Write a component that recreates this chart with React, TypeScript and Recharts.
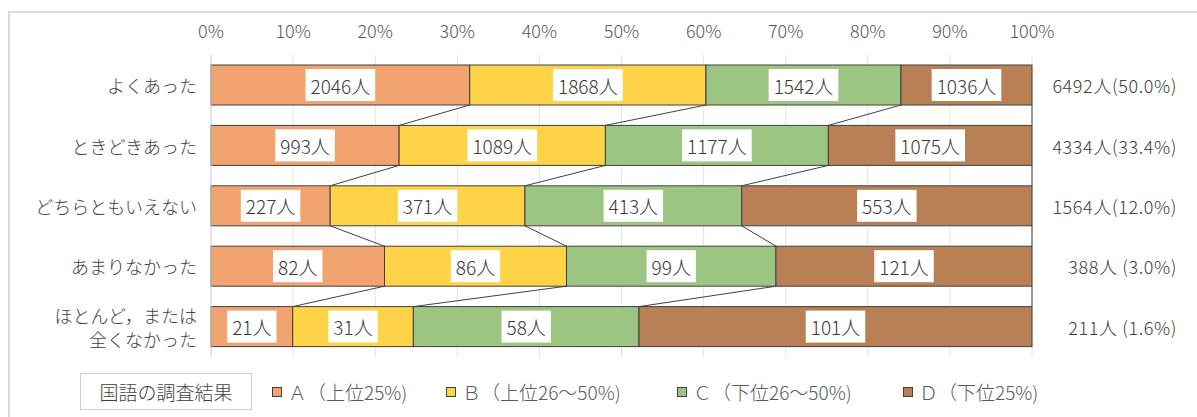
import { useLayoutEffect, useRef, useState } from "react"
import {
    BarChart,
    Bar,
    XAxis,
    YAxis,
    CartesianGrid,
    Legend,
    LabelList
} from "recharts"

// 質問の回答区分
const categories = ["よくあった", "ときどきあった", "どちらともいえない", "あまりなかった", "ほとんど，または\n全くなかった"]
// 国語の調査結果ごとの人数
const seriesA = [2046, 993, 227, 82, 21]
const seriesB = [1868, 1089, 371, 86, 31]
const seriesC = [1542, 1177, 413, 99, 58]
const seriesD = [1036, 1075, 553, 121, 101]
const totalLabels = ["6492人(50.0%)", "4334人(33.4%)", "1564人(12.0%)", "388人 (3.0%)", "211人 (1.6%)"]
const xTicks = [0, 0.1, 0.2, 0.3, 0.4, 0.5, 0.6, 0.7, 0.8, 0.9, 1]
const xTickLabels = ["0%", "10%", "20%", "30%", "40%", "50%", "60%", "70%", "80%", "90%", "100%"]
const legendTitle = "国語の調査結果"
const seriesNames = ["Ａ（上位25%)", "Ｂ（上位26～50%)", "Ｃ（下位26～50%)", "Ｄ（下位25%)"]

const allSeries = [seriesA, seriesB, seriesC, seriesD]
const keys = ["a", "b", "c", "d"]
const colors = ["#f1a46f", "#ffd348", "#9dc582", "#b97f55"]

const data = categories.map((name, i) => ({
    name,
    a: seriesA[i],
    b: seriesB[i],
    c: seriesC[i],
    d: seriesD[i]
}))

const W = 1197
const H = 417
const PLOT_TOP = 55
const LEGEND_H = 60
const PITCH = (H - PLOT_TOP - LEGEND_H) / categories.length
const FONT = "'Noto Sans CJK JP', sans-serif"

const rowTotal = (i: number) => allSeries.reduce((s, arr) => s + arr[i], 0)
const cumTo = (i: number, k: number) => {
    let s = 0
    for (let j = 0; j <= k; j++) s += allSeries[j][i]
    return s
}

// 棒 + 区分線（次の行の同じ境界へ結ぶ）
const makeShape = (k: number) => (props: any) => {
    const { x, y, width, height, index, fill } = props
    const i = index
    const frac = allSeries[k][i] / rowTotal(i)
    const plotW = width / frac
    const left = x - ((cumTo(i, k) - allSeries[k][i]) / rowTotal(i)) * plotW
    let line = null
    if (i < categories.length - 1) {
        const nx = left + (cumTo(i + 1, k) / rowTotal(i + 1)) * plotW
        line = <line x1={x + width} y1={y + height} x2={nx} y2={y + PITCH} stroke="#404040" strokeWidth={1} />
    }
    return (
        <g>
            <rect x={x} y={y} width={width} height={height} fill={fill} stroke="#404040" strokeWidth={1} />
            {line}
        </g>
    )
}

function BoxLabel({ cx, cy, text }: { cx: number, cy: number, text: string }) {
    const ref = useRef<SVGTextElement>(null)
    const [w, setW] = useState(0)
    useLayoutEffect(() => {
        if (ref.current) setW(ref.current.getBBox().width)
    }, [text])
    return (
        <g>
            <rect x={cx - w / 2 - 5} y={cy - 16} width={w + 10} height={32} fill="#ffffff" />
            <text ref={ref} x={cx} y={cy} textAnchor="middle" dominantBaseline="central"
                fontFamily={FONT} fontSize={19} fontWeight={300} fill="#3a3a3a">{text}</text>
        </g>
    )
}

const makeLabel = (k: number) => (props: any) => {
    const { x, y, width, height, index } = props
    return <BoxLabel cx={x + width / 2} cy={y + height / 2} text={`${allSeries[k][index]}人`} />
}

const TopTick = (props: any) => {
    const { x, y, index } = props
    return (
        <text x={x} y={y - 17} textAnchor="middle" fontFamily={FONT} fontSize={18} fontWeight={300} fill="#595959">
            {xTickLabels[index]}
        </text>
    )
}

const LeftTick = (props: any) => {
    const { x, y, payload } = props
    const lines = String(payload.value).split("\n")
    const start = y - ((lines.length - 1) * 24) / 2
    return (
        <text x={x} y={start} textAnchor="end" dominantBaseline="central" fontFamily={FONT} fontSize={18} fontWeight={300} fill="#404040">
            {lines.map((l, j) => (
                <tspan key={j} x={x} y={start + j * 24}>{l}</tspan>
            ))}
        </text>
    )
}

const RightTick = (props: any) => {
    const { x, y, index } = props
    return (
        <text x={x + 145} y={y} textAnchor="end" dominantBaseline="central" fontFamily={FONT} fontSize={18} fontWeight={300}
            letterSpacing={0.6} fill="#404040">
            {totalLabels[index]}
        </text>
    )
}

const legendLeft = [272, 446, 677, 903]

const renderLegend = () => (
    <div style={{ position: "relative", height: LEGEND_H, fontFamily: FONT, fontWeight: 300, color: "#595959" }}>
        <div style={{
            position: "absolute", left: 80, top: 16, width: 172, height: 37,
            border: "1px solid #d0d0d0", boxSizing: "border-box",
            display: "flex", alignItems: "center", justifyContent: "center",
            fontSize: 19, color: "#404040"
        }}>{legendTitle}</div>
        {seriesNames.map((n, k) => (
            <div key={n} style={{ position: "absolute", left: legendLeft[k], top: 16, height: 37, display: "flex", alignItems: "center", whiteSpace: "nowrap" }}>
                <span style={{ width: 8, height: 8, background: colors[k], border: "1px solid #404040", marginRight: 6 }} />
                <span style={{ fontSize: 19 }}>{n}</span>
            </div>
        ))}
    </div>
)

export default function App() {
    return (
        <div style={{ position: "absolute", left: 0, top: 0, width: W, height: H, overflow: "hidden", background: "#fff" }}>
            <div style={{ position: "absolute", left: 8, top: 11, width: W, height: H, borderTop: "2px solid #d9d9d9", borderLeft: "2px solid #d9d9d9" }} />
            <BarChart width={W} height={H} data={data} layout="vertical" stackOffset="expand"
                margin={{ top: 0, right: 0, bottom: 0, left: 0 }} style={{ position: "absolute", left: 0, top: 0 }}>
                <CartesianGrid horizontal={false} stroke="#e3e3e3" />
                <XAxis type="number" orientation="top" domain={[0, 1]} ticks={xTicks} height={PLOT_TOP}
                    axisLine={false} tickLine={false} tickSize={0} tickMargin={0} tick={<TopTick />} />
                <YAxis type="category" dataKey="name" width={211} axisLine={{ stroke: "#d9d9d9" }}
                    tickLine={false} tickSize={0} tickMargin={14} tick={<LeftTick />} />
                <YAxis yAxisId="right" orientation="right" type="category" dataKey="name" width={165}
                    axisLine={false} tickLine={false} tickSize={0} tickMargin={0} tick={<RightTick />} />
                <Legend verticalAlign="bottom" content={renderLegend} />
                {keys.map((key, k) => (
                    <Bar key={key} dataKey={key} stackId="s" barSize={40} fill={colors[k]}
                        shape={makeShape(k)} isAnimationActive={false}>
                        <LabelList content={makeLabel(k)} />
                    </Bar>
                ))}
            </BarChart>
        </div>
    )
}
